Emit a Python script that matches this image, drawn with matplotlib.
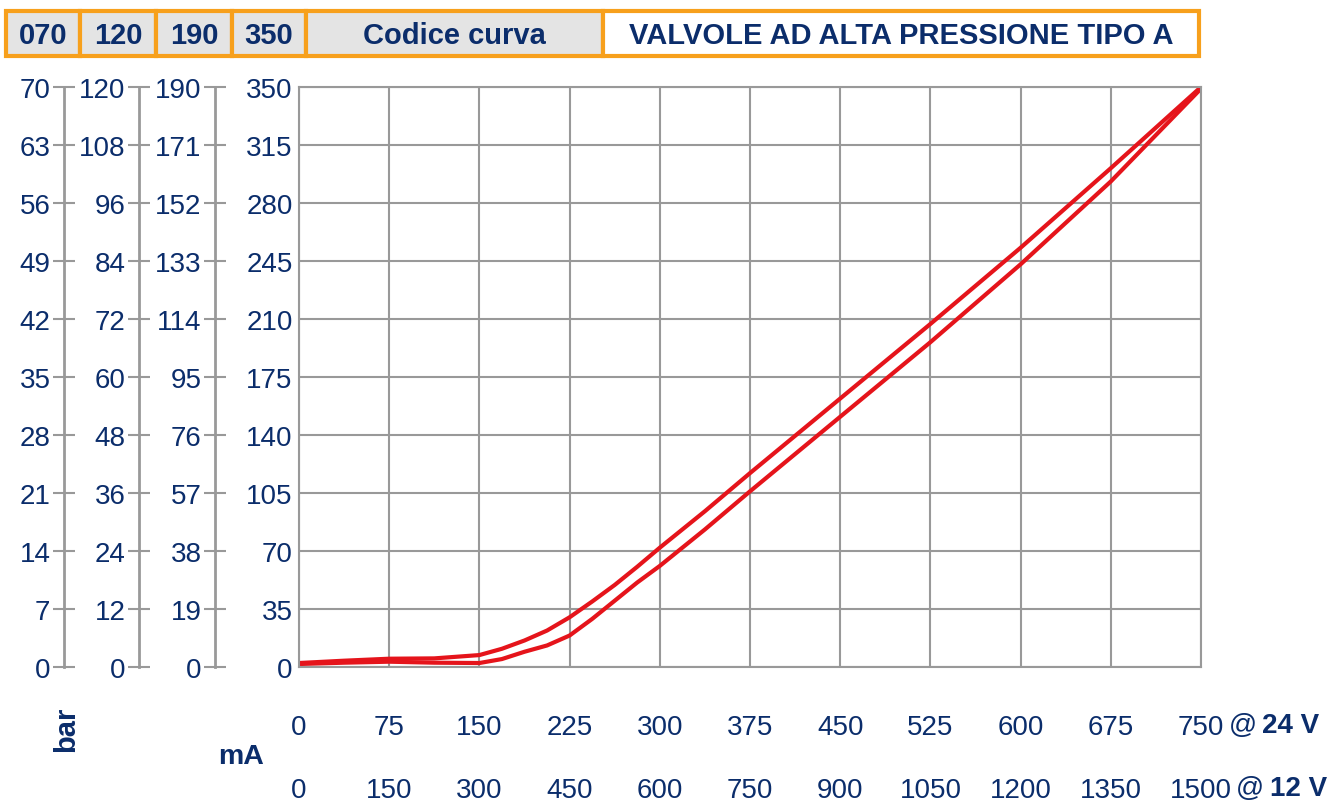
import matplotlib.pyplot as plt
from matplotlib.patches import Rectangle

W, H = 1331, 803
NAVY = '#0b2d6b'
GREY = '#999999'
ORANGE = '#f7a01c'
RED = '#e5141b'

# dati (mA @ 24 V, pressione scala 350)
corrente = [0, 37.5, 75, 112.5, 150, 168.75, 187.5, 206.25, 225, 243.75, 262.5,
            281.25, 300, 337.5, 375, 450, 525, 600, 675, 750]
salita = [2.4, 3.8, 5.0, 5.2, 7.2, 11, 16, 22, 30, 39.5, 49.5,
          60.5, 72, 94, 117, 162, 207, 253, 301, 350]
discesa = [1.8, 2.6, 3.2, 2.6, 2.4, 4.8, 9.2, 13, 19, 29, 40,
           51, 61, 83, 106, 151, 196, 243, 293, 349]

x_24v = [0, 75, 150, 225, 300, 375, 450, 525, 600, 675, 750]
x_12v = [0, 150, 300, 450, 600, 750, 900, 1050, 1200, 1350, 1500]
scale_350 = [0, 35, 70, 105, 140, 175, 210, 245, 280, 315, 350]
scale_190 = [0, 19, 38, 57, 76, 95, 114, 133, 152, 171, 190]
scale_120 = [0, 12, 24, 36, 48, 60, 72, 84, 96, 108, 120]
scale_070 = [0, 7, 14, 21, 28, 35, 42, 49, 56, 63, 70]

header = ['070', '120', '190', '350', 'Codice curva', 'VALVOLE AD ALTA PRESSIONE TIPO A']
header_x = [6, 80, 156, 232, 306, 603, 1199]

plt.rcParams['font.family'] = ['Liberation Sans', 'DejaVu Sans']
FS = 20

fig = plt.figure(figsize=(W / 100, H / 100), dpi=100)

# area grafico principale (pixel)
L, R, T, B = 299, 1201, 88, 668
ax = fig.add_axes([L / W, 1 - B / H, (R - L) / W, (B - T) / H])
ax.set_xlim(0, 750)
ax.set_ylim(0, 350)
ax.set_xticks(x_24v)
ax.set_yticks(scale_350)
ax.grid(True, color=GREY, lw=1.5)
for s in ax.spines.values():
    s.set_color(GREY)
    s.set_linewidth(1.5)
ax.tick_params(axis='y', length=0, pad=4.5, labelsize=FS, labelcolor=NAVY)
ax.tick_params(axis='x', length=0, pad=33.5, labelsize=FS, labelcolor=NAVY)

ax.plot(corrente, salita, color=RED, lw=3, solid_joinstyle='round', solid_capstyle='round')
ax.plot(corrente, discesa, color=RED, lw=3, solid_joinstyle='round', solid_capstyle='round')

sec = ax.secondary_xaxis('bottom', functions=(lambda v: v * 2, lambda v: v / 2))
sec.set_xticks(x_12v)
sec.spines['bottom'].set_visible(False)
sec.tick_params(axis='x', length=0, pad=79, labelsize=FS, labelcolor=NAVY)

# scale di pressione aggiuntive a sinistra
for xs, vals in [(64, scale_070), (139, scale_120), (215, scale_190)]:
    a = fig.add_axes([xs / W, 1 - B / H, 0.0001, (B - T) / H])
    a.set_ylim(0, vals[-1])
    a.set_yticks(vals)
    a.set_xticks([])
    a.patch.set_visible(False)
    for k in ['top', 'right', 'bottom']:
        a.spines[k].set_visible(False)
    a.spines['left'].set_color(GREY)
    a.spines['left'].set_linewidth(2)
    a.tick_params(axis='y', direction='inout', length=16.5, width=1.5, color=GREY,
                  pad=1.5, labelsize=FS, labelcolor=NAVY)

def fx(px):
    return px / W

def fy(py):
    return 1 - py / H

# intestazione
top, bot = 12, 57
for i in range(6):
    x0, x1 = header_x[i], header_x[i + 1]
    fc = '#e4e4e4' if i < 5 else 'white'
    fig.add_artist(Rectangle((fx(x0), fy(bot)), fx(x1) - fx(x0), fy(top) - fy(bot),
                             transform=fig.transFigure, facecolor=fc,
                             edgecolor=ORANGE, lw=3))
    fig.text(fx((x0 + x1) / 2), fy((top + bot) / 2 + 2), header[i], ha='center', va='center',
             fontsize=21, fontweight='bold', color=NAVY)

# etichette unità
fig.text(fx(66), fy(729), 'bar', rotation=90, ha='center', va='center',
         fontsize=21, fontweight='bold', color=NAVY)
fig.text(fx(241), fy(757), 'mA', ha='center', va='center',
         fontsize=20.5, fontweight='bold', color=NAVY)
fig.text(fx(1229), fy(726), '@', ha='left', va='center', fontsize=FS, color=NAVY)
fig.text(fx(1262), fy(726), '24 V', ha='left', va='center', fontsize=FS,
         fontweight='bold', color=NAVY)
fig.text(fx(1236), fy(789), '@', ha='left', va='center', fontsize=FS, color=NAVY)
fig.text(fx(1270), fy(789), '12 V', ha='left', va='center', fontsize=FS,
         fontweight='bold', color=NAVY)

fig.savefig('out.png', dpi=100)
